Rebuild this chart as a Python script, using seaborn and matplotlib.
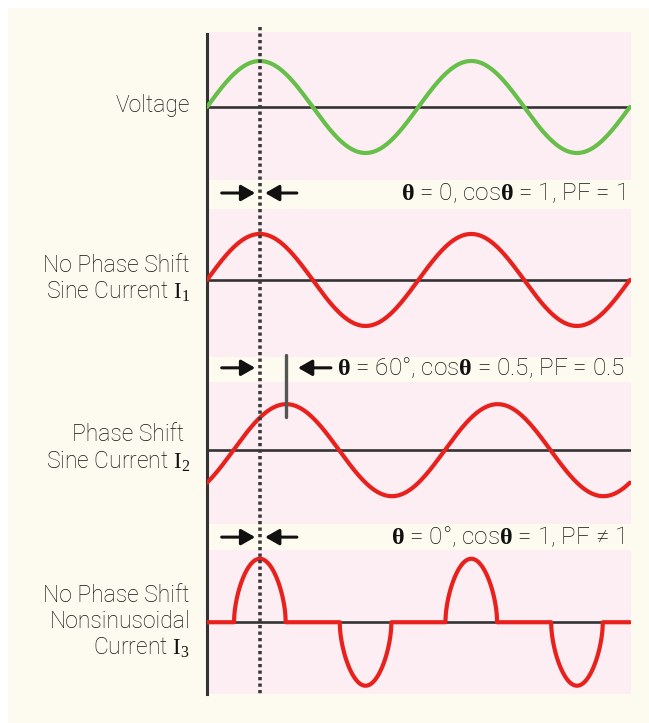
import numpy as np
import pandas as pd
import seaborn as sns
import matplotlib.pyplot as plt
from matplotlib.patches import Rectangle

# waveform data (x in electrical degrees, amplitude 1 = sine peak)
wave_names = ["Voltage", "I1", "I2", "I3"]
wave_colors = ["#66BF48", "#E8211D", "#E8211D", "#E8211D"]
wave_phase = [0, 0, 45, 0]          # drawn phase lag in degrees
wave_offset = [-1.63, -5.39, -9.09, -12.83]
pulse_centers = [90, 270, 450, 630]
pulse_signs = [1, -1, 1, -1]
pulse_halfwidth = 44
pulse_height = 1.38

labels = [
    "Voltage",
    "No Phase Shift\nSine Current $\\mathrm{I}_1$",
    "Phase Shift \nSine Current $\\mathrm{I}_2$",
    "No Phase Shift\nNonsinusoidal\nCurrent $\\mathrm{I}_3$",
]
label_y = [-1.60, -5.37, -9.05, -12.83]

notes = [
    "$\\mathbf{\\theta}$ = 0, cos$\\mathbf{\\theta}$ = 1, PF = 1",
    "$\\mathbf{\\theta}$ = 60°, cos$\\mathbf{\\theta}$ = 0.5, PF = 0.5",
    "$\\mathbf{\\theta}$ = 0°, cos$\\mathbf{\\theta}$ = 1, PF ≠ 1",
]
note_y = [-3.50, -7.30, -10.98]
strips = [(-3.85, -3.22), (-7.61, -7.07), (-11.26, -10.70)]

sns.set_theme(style="white")
plt.rcParams["font.family"] = ["Roboto", "DejaVu Sans"]
plt.rcParams["mathtext.fontset"] = "custom"
plt.rcParams["mathtext.rm"] = "Liberation Serif"
plt.rcParams["mathtext.bf"] = "Liberation Serif:bold"

fig = plt.figure(figsize=(6.49, 7.23), dpi=100)
fig.patch.set_facecolor("white")
fig.patches.append(Rectangle((8 / 649, 0), 1, 715 / 723, transform=fig.transFigure,
                             facecolor="#FDFBF0", edgecolor="none", zorder=-10))

ax = fig.add_axes([207 / 649, 29 / 723, 424 / 649, 662 / 723])
ax.set_zorder(5)
ax.set_facecolor("#FCEEF3")
ax.set_xlim(0, 722)
ax.set_ylim(-14.39, 0)

for lo, hi in strips:
    ax.axhspan(lo, hi, color="#FDFBF0", lw=0, zorder=1)

x = np.linspace(0, 720, 1441)
rows = []
for i, name in enumerate(wave_names):
    if name == "I3":
        y = np.zeros_like(x)
        for c, s in zip(pulse_centers, pulse_signs):
            u = (x - c) / pulse_halfwidth
            inside = np.abs(u) < 1
            y[inside] = s * pulse_height * np.cos(np.pi / 2 * u[inside]) ** 0.55
    else:
        y = np.sin(np.radians(x - wave_phase[i]))
    rows.append(pd.DataFrame({"deg": x, "val": y + wave_offset[i], "wave": name}))
df = pd.concat(rows)

# zero lines
for off in wave_offset:
    ax.plot([0, 720], [off, off], color="#333333", lw=1.9, zorder=2)

sns.lineplot(data=df, x="deg", y="val", hue="wave", palette=dict(zip(wave_names, wave_colors)),
             lw=3.0, legend=False, ax=ax, zorder=3, sort=False, estimator=None)

# vertical dotted reference at the voltage peak
ax.plot([90, 90], [0.1, -14.39], color="#3A3A3A", lw=2.6, ls=(0, (0.9, 0.9)), zorder=4,
        clip_on=False)

# arrows
arrow_kw = dict(arrowstyle="-|>,head_length=0.7,head_width=0.4", color="#111111",
                lw=2.2, shrinkA=0, shrinkB=0)
for i, yy in enumerate(note_y):
    ax.annotate("", xy=(82, yy), xytext=(25, yy), arrowprops=arrow_kw, zorder=5)
    if i == 1:
        ax.annotate("", xy=(155, yy), xytext=(211, yy), arrowprops=arrow_kw, zorder=5)
        ax.plot([90 + wave_phase[2]] * 2, [-7.02, -8.37], color="#555555", lw=2.4, zorder=5)
    else:
        ax.annotate("", xy=(99, yy), xytext=(153, yy), arrowprops=arrow_kw, zorder=5)
    ax.text(711, yy, notes[i], ha="right", va="center", fontsize=17.5, fontweight="light",
            color="#111111", zorder=6)

for lab, yy in zip(labels, label_y):
    ax.text(-29, yy, lab, ha="right", va="center", fontsize=16.5, fontweight="light",
            color="#111111", linespacing=1.15, clip_on=False)

sns.despine(ax=ax, top=True, right=True, bottom=True, left=False)
ax.spines["left"].set_color("#333333")
ax.spines["left"].set_linewidth(2.2)
ax.spines["left"].set_bounds(-14.39, -0.05)
ax.set_xticks([])
ax.set_yticks([])
ax.set_xlabel("")
ax.set_ylabel("")

fig.savefig("out.png", dpi=100)
